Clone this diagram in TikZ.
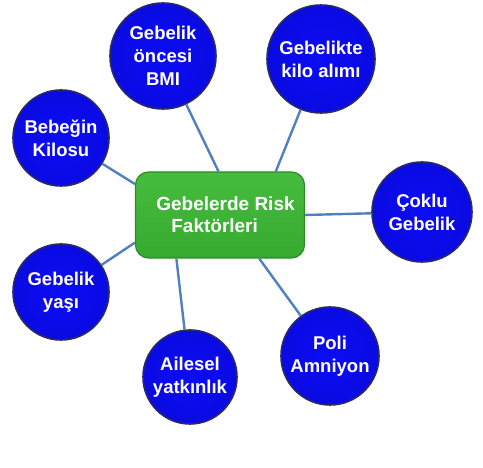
\documentclass[tikz,border=0pt]{standalone}
\usepackage{fontspec}
\setmainfont{Liberation Sans}
\usetikzlibrary{calc}
\usepackage{xcolor}
\definecolor{ballblue}{HTML}{0A0AE2}
\definecolor{ballrim}{HTML}{2A2A66}
\definecolor{ballcore}{HTML}{0C0CF6}
\definecolor{boxtop}{HTML}{46BC3E}
\definecolor{boxbottom}{HTML}{36AA30}
\definecolor{boxrim}{HTML}{2E8A28}
\definecolor{linkblue}{HTML}{4F81BD}

\begin{document}
\begin{tikzpicture}[x=1pt,y=1pt,
    factor/.style={circle,inner sep=0pt,draw=ballrim,line width=1.6pt,
      shading=radial,inner color=ballcore,outer color=ballblue,
      text=white,font=\fontsize{18.5}{23}\selectfont\bfseries,align=center},
    riskbox/.style={rectangle,rounded corners=13pt,draw=boxrim,line width=1.2pt,
      top color=boxtop,bottom color=boxbottom,minimum width=169pt,minimum height=86pt,
      text=white,font=\fontsize{19}{22}\selectfont\bfseries,align=left},
    link/.style={draw=linkblue,line width=2.4pt}]
  % Frame
  \useasboundingbox[fill=white] (0,0) rectangle (483,468);
  % Centre box
  \node[riskbox] (risk) at (220,253) {\hspace*{11pt}Gebelerde Risk\\[0pt]\hspace*{26pt}Faktörleri};
  % Risk factors
  \node[factor,minimum size=106pt] (bmi) at (163,412) {Gebelik\\öncesi\\BMI};
  \node[factor,minimum size=108pt] (kilo) at (321,409) {Gebelikte\\kilo alımı};
  \node[factor,minimum size=96pt] (bebek) at (61,330) {Bebeğin\\Kilosu};
  \node[factor,minimum size=100pt] (coklu) at (422,256) {Çoklu\\Gebelik};
  \node[factor,minimum size=96pt] (yas) at (61,176) {Gebelik\\yaşı};
  \node[factor,minimum size=94pt] (ailesel) at (190,91) {Ailesel\\yatkınlık};
  \node[factor,minimum size=98pt] (poli) at (330,112) {Poli\\Amniyon};
  % Links
  \draw[link] (bmi) -- (risk.92);
  \draw[link] (kilo) -- (risk.38);
  \draw[link] (bebek) -- (risk.160);
  \draw[link] (coklu) -- (risk.0);
  \draw[link] (yas) -- (risk.198);
  \draw[link] (ailesel) -- (risk.225);
  \draw[link] (poli) -- (risk.312);
\end{tikzpicture}
\end{document}
